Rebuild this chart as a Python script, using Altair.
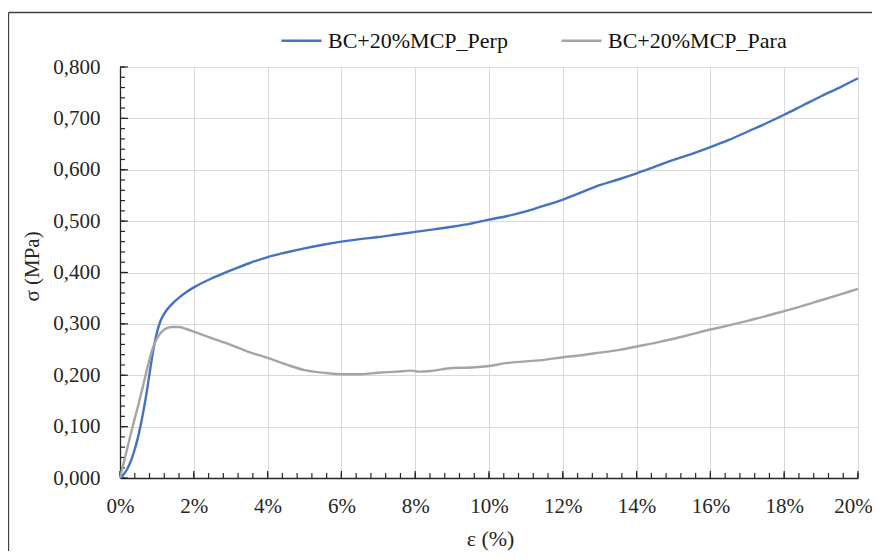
import altair as alt
import pandas as pd

# ---- data ----
perp_x = [0, 0.1, 0.2, 0.3, 0.4, 0.5, 0.6, 0.7, 0.8, 0.9, 1.0, 1.1, 1.2, 1.4, 1.6, 1.8, 2.0,
          2.5, 3.0, 3.5, 4.0, 4.5, 5.0, 5.5, 6.0, 6.5, 7.0, 7.5, 8.0, 8.5, 9.0, 9.5, 10.0,
          10.5, 11.0, 11.5, 12.0, 12.5, 13.0, 13.5, 14.0, 14.5, 15.0, 15.5, 16.0, 16.5,
          17.0, 17.5, 18.0, 18.5, 19.0, 19.5, 20.0]
perp_y = [0, 0.007, 0.018, 0.034, 0.056, 0.083, 0.117, 0.157, 0.203, 0.248, 0.283, 0.306,
          0.320, 0.338, 0.351, 0.362, 0.371, 0.389, 0.404, 0.418, 0.430, 0.439, 0.447,
          0.454, 0.460, 0.465, 0.469, 0.474, 0.479, 0.484, 0.489, 0.495, 0.503, 0.510,
          0.519, 0.530, 0.542, 0.556, 0.570, 0.581, 0.593, 0.606, 0.619, 0.631, 0.644,
          0.658, 0.674, 0.690, 0.707, 0.725, 0.743, 0.760, 0.778]

para_x = [0, 0.1, 0.2, 0.3, 0.4, 0.5, 0.6, 0.7, 0.8, 0.9, 1.0, 1.1, 1.2, 1.4, 1.6, 1.8, 2.0,
          2.5, 3.0, 3.5, 4.0, 4.5, 5.0, 5.5, 6.0, 6.5, 7.0, 7.5, 7.9, 8.1, 8.5, 9.0, 9.5,
          10.0, 10.5, 11.0, 11.5, 12.0, 12.5, 13.0, 13.5, 14.0, 14.5, 15.0, 15.5, 16.0,
          16.5, 17.0, 17.5, 18.0, 18.5, 19.0, 19.5, 20.0]
para_y = [0, 0.029, 0.059, 0.088, 0.116, 0.143, 0.172, 0.202, 0.231, 0.255, 0.271, 0.282,
          0.289, 0.294, 0.294, 0.290, 0.285, 0.272, 0.259, 0.245, 0.234, 0.221, 0.210,
          0.205, 0.202, 0.202, 0.205, 0.207, 0.209, 0.207, 0.209, 0.214, 0.215, 0.218,
          0.224, 0.227, 0.230, 0.235, 0.239, 0.244, 0.249, 0.256, 0.263, 0.271, 0.280,
          0.289, 0.297, 0.306, 0.315, 0.325, 0.335, 0.346, 0.357, 0.368]

series_names = ["BC+20%MCP_Perp", "BC+20%MCP_Para"]
series_colors = ["#4472C4", "#A5A5A5"]

x_major = [0, 2, 4, 6, 8, 10, 12, 14, 16, 18, 20]
x_minor = [round(i * 0.4, 1) for i in range(51)]
y_major = [0, 0.1, 0.2, 0.3, 0.4, 0.5, 0.6, 0.7, 0.8]
y_minor = [round(i * 0.02, 2) for i in range(41)]

W, H = 738, 411
FONT = "Liberation Serif"
TXT = "#262626"

df = pd.concat([
    pd.DataFrame({"eps": perp_x, "sigma": perp_y, "series": series_names[0]}),
    pd.DataFrame({"eps": para_x, "sigma": para_y, "series": series_names[1]}),
])

xscale = alt.Scale(domain=[0, 20], nice=False, zero=False)
yscale = alt.Scale(domain=[0, 0.8], nice=False)

lines = alt.Chart(df).mark_line(strokeWidth=2.4, interpolate="monotone").encode(
    x=alt.X("eps:Q", scale=xscale,
            axis=alt.Axis(values=x_major, labelExpr="datum.value + '%'",
                          grid=True, gridColor="#D9D9D9", gridWidth=1,
                          ticks=False, tickSize=0, domainColor="#262626", domainWidth=1.3,
                          labelFont=FONT, labelFontSize=21, labelColor=TXT,
                          labelPadding=17, labelFlush=False,
                          labelOffset={"condition": {"test": "datum.value == 20", "value": -5},
                                       "value": 0},
                          title="ε (%)", titleFont=FONT, titleFontSize=22,
                          titleFontWeight="normal", titleColor=TXT,
                          titleX=370, titleY=60, titleBaseline="middle")),
    y=alt.Y("sigma:Q", scale=yscale,
            axis=alt.Axis(values=y_major,
                          labelExpr="replace(format(datum.value, '.3f'), '.', ',')",
                          grid=True, gridColor="#D9D9D9", gridWidth=1,
                          ticks=False, tickSize=0, domainColor="#262626", domainWidth=1.3,
                          labelFont=FONT, labelFontSize=21, labelColor=TXT,
                          labelPadding=20,
                          title="σ (MPa)", titleFont=FONT, titleFontSize=21,
                          titleFontWeight="normal", titleColor=TXT,
                          titleX=-88, titleY=199, titleBaseline="middle", titleAngle=270)),
    color=alt.Color("series:N",
                    scale=alt.Scale(domain=series_names, range=series_colors),
                    sort=series_names,
                    legend=alt.Legend(title=None, orient="none", legendX=160, legendY=-48,
                                      direction="horizontal", symbolType="stroke",
                                      symbolSize=1600, symbolStrokeWidth=2.5,
                                      labelFont=FONT, labelFontSize=22, labelColor="#111",
                                      labelLimit=0, labelOffset=5, columnPadding=48,
                                      padding=0)),
)

xmaj = alt.Chart(pd.DataFrame({"v": x_major})).mark_rule(color="#262626", strokeWidth=1.2).encode(
    x=alt.X("v:Q", scale=xscale), y=alt.value(H), y2=alt.value(H - 7))
xmin = alt.Chart(pd.DataFrame({"v": x_minor})).mark_rule(color="#262626", strokeWidth=1.2).encode(
    x=alt.X("v:Q", scale=xscale), y=alt.value(H), y2=alt.value(H - 5))
ymaj = alt.Chart(pd.DataFrame({"v": y_major})).mark_rule(color="#262626", strokeWidth=1.2).encode(
    y=alt.Y("v:Q", scale=yscale), x=alt.value(0), x2=alt.value(8))
ymin = alt.Chart(pd.DataFrame({"v": y_minor})).mark_rule(color="#262626", strokeWidth=1.2).encode(
    y=alt.Y("v:Q", scale=yscale), x=alt.value(0), x2=alt.value(5))

frame_df = pd.DataFrame({"k": [0]})
frame_left = alt.Chart(frame_df).mark_rule(color="#404040", strokeWidth=1.3).encode(
    x=alt.value(-111.5), y=alt.value(-54.5), y2=alt.value(H + 73))
frame_top = alt.Chart(frame_df).mark_rule(color="#404040", strokeWidth=1.3).encode(
    x=alt.value(-111.5), x2=alt.value(W + 14), y=alt.value(-54.5))

chart = alt.layer(xmin, xmaj, ymin, ymaj, lines, frame_left, frame_top).properties(
    width=W, height=H,
    autosize=alt.AutoSizeParams(type="none"),
    padding={"left": 112, "top": 59, "right": 14, "bottom": 73},
    background="white",
).configure_view(strokeWidth=0)

chart.save("out.html", embed_options={"renderer": "svg", "actions": False})
